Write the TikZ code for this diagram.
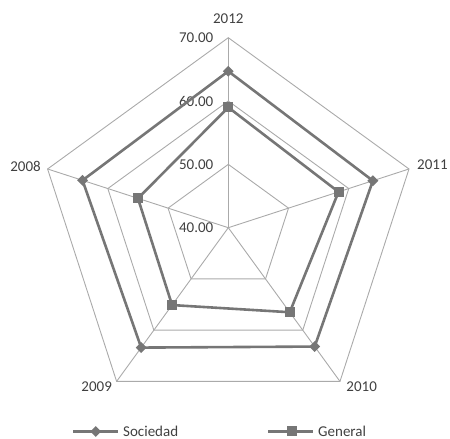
\documentclass[tikz,border=0pt]{standalone}
\usepackage{fontspec}
\setmainfont{Carlito}
\usetikzlibrary{shapes.geometric,calc}
\definecolor{gridc}{RGB}{170,170,170}
\definecolor{datac}{RGB}{118,118,118}
\definecolor{txtc}{RGB}{64,64,64}
\tikzset{
  gridline/.style={draw=gridc, line width=0.9pt},
  dataline/.style={draw=datac, line width=2.6pt, line join=miter},
  dmark/.style={diamond, fill=datac, inner sep=0pt, minimum width=11pt, minimum height=11pt},
  smark/.style={rectangle, fill=datac, inner sep=0pt, minimum size=10pt},
  lbl/.style={text=txtc, font=\fontsize{15}{18}\selectfont, inner sep=0pt},
}
\begin{document}
\begin{tikzpicture}[x=1pt,y=1pt]
\useasboundingbox (0,0) rectangle (450,439);
\coordinate (C) at (228.3,211.3);
% grid rings
\foreach \r/\n in {63.33/a,126.67/b,190/c}{
  \foreach \ang/\k in {90/1,18/2,-54/3,-126/4,162/5}{
    \coordinate (g\n\k) at ($(C)+(\ang:\r)$);
  }
  \draw[gridline] (g\n1) -- (g\n2) -- (g\n3) -- (g\n4) -- (g\n5) -- cycle;
}
\foreach \k in {1,...,5}{ \draw[gridline] (C) -- (gc\k); }
% value labels
\node[lbl, anchor=east] (v70) at (213.5,401.3) {70.00};
\node[lbl, anchor=east] (v60) at (213.5,338.0) {60.00};
\node[lbl, anchor=east] (v50) at (213.5,274.6) {50.00};
\node[lbl, anchor=east] (v40) at (213.5,211.3) {40.00};
% year labels
\node[lbl] (y2012) at (228.3,420.7) {2012};
\node[lbl, anchor=west] (y2011) at (417,274) {2011};
\node[lbl] (y2010) at (361.7,52) {2010};
\node[lbl] (y2009) at (96.7,52) {2009};
\node[lbl, anchor=east] (y2008) at (41,273) {2008};
% data
\def\sc{6.3333}
\foreach \ang/\v/\k in {90/64.7/1,18/64.0/2,-54/63.2/3,-126/63.4/4,162/64.2/5}{
  \coordinate (s\k) at ($(C)+(\ang:{(\v-40)*\sc})$);
}
\foreach \ang/\v/\k in {90/59.0/1,18/58.3/2,-54/56.5/3,-126/55.1/4,162/55.0/5}{
  \coordinate (q\k) at ($(C)+(\ang:{(\v-40)*\sc})$);
}
\draw[dataline] (s1) -- (s2) -- (s3) -- (s4) -- (s5) -- cycle;
\draw[dataline] (q1) -- (q2) -- (q3) -- (q4) -- (q5) -- cycle;
\foreach \k in {1,...,5}{
  \node[dmark] (ds\k) at (s\k) {};
  \node[smark] (dq\k) at (q\k) {};
}
% legend
\coordinate (la1) at (73,7.5);
\coordinate (la2) at (118,7.5);
\draw[dataline] (la1) -- (la2);
\node[dmark] (lm1) at (95.7,7.5) {};
\node[lbl, anchor=west] (lt1) at (123,7.5) {Sociedad};
\coordinate (lb1) at (268,7.5);
\coordinate (lb2) at (313,7.5);
\draw[dataline] (lb1) -- (lb2);
\node[smark] (lm2) at (291.7,7.5) {};
\node[lbl, anchor=west] (lt2) at (318,7.5) {General};
\end{tikzpicture}
\end{document}
